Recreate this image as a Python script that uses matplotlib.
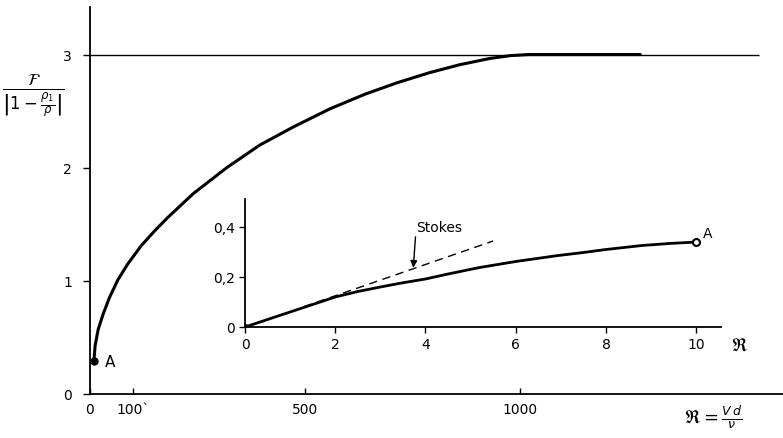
import matplotlib
matplotlib.use("Agg")
from matplotlib import pyplot as plt

# main curve: F / |1 - rho1/rho| against R = V d / nu
mainR = [9, 12, 19, 30, 45, 65, 88, 119, 150, 181, 240, 318, 395, 473, 558, 640, 714, 790, 860, 930, 977, 1020, 1280]
mainF = [0.29, 0.43, 0.57, 0.70, 0.85, 1.01, 1.15, 1.31, 1.44, 1.56, 1.77, 2.00, 2.20, 2.36, 2.52, 2.65, 2.75,
         2.84, 2.91, 2.965, 2.99, 3.0, 3.0]
limitF = 3.0
limitEnd = 1556

# inset: small R
insetR = [0, 1, 2, 2.5, 3, 3.5, 4, 4.5, 5.2, 6, 6.9, 7.5, 8, 8.8, 9.4, 10]
insetF = [0, 0.06, 0.12, 0.142, 0.16, 0.177, 0.192, 0.212, 0.238, 0.262, 0.285, 0.298, 0.31, 0.326, 0.334, 0.34]
stokesR = [1.3, 5.5]
stokesF = [0.081, 0.344]

mainTicksX = [0, 100, 500, 1000]
mainTickLabelsX = ['0', '100`', '500', '1000']
mainTicksY = [0, 1, 2, 3]
insetTicksX = [0, 2, 4, 6, 8, 10]
insetTicksY = [0, 0.2, 0.4]
insetTickLabelsY = ['0', '0,2', '0,4']

fig = plt.figure(figsize=(7.83, 4.39), dpi=100)

ax = fig.add_axes([90/783, 44/439, 693/783, 387/439])
ax.plot(mainR, mainF, color='black', lw=2.2, solid_capstyle='round', solid_joinstyle='round')
ax.plot(mainR[0], mainF[0], 'o', color='black', ms=5)
ax.hlines(limitF, 0, limitEnd, color='black', lw=1.0)
ax.text(mainR[0] + 25, mainF[0], 'A', fontsize=11, va='center')
ax.set_xlim(0, 1612)
ax.set_ylim(0, 3.42)
for s in ['top', 'right']:
    ax.spines[s].set_visible(False)
for s in ['left', 'bottom']:
    ax.spines[s].set_linewidth(1.3)
ax.set_xticks(mainTicksX)
ax.set_xticklabels(mainTickLabelsX)
ax.set_yticks(mainTicksY)
ax.tick_params(axis='x', direction='in', length=4, width=1, labelsize=10, pad=6)
ax.tick_params(axis='y', direction='out', length=5, width=1, labelsize=10, pad=8)
ax.text(-132, 2.64, r'$\frac{\mathcal{F}}{\left|1-\frac{\rho_1}{\rho}\right|}$',
        fontsize=17, ha='center', va='center')
ax.text(1449, -0.2, r'$\mathfrak{R} = \frac{V\,d}{\nu}$', fontsize=13, ha='center', va='center')

ins = fig.add_axes([245/783, 111/439, 476/783, 128/439])
ins.set_facecolor('none')
ins.plot(insetR, insetF, color='black', lw=2.0, solid_joinstyle='round')
ins.plot(stokesR, stokesF, color='black', lw=1.0, ls=(0, (6, 4)))
ins.plot(insetR[0], insetF[0], 'o', color='black', ms=4)
ins.plot(insetR[-1], insetF[-1], 'o', mfc='white', mec='black', mew=1.5, ms=5)
ins.text(10.25, 0.375, 'A', fontsize=10, ha='center', va='center')
ins.annotate('Stokes', xy=(3.73, 0.237), xytext=(3.79, 0.40), fontsize=10,
             ha='left', va='center',
             arrowprops=dict(arrowstyle='-|>', color='black', lw=1.0,
                             shrinkA=0, shrinkB=0, relpos=(0, 0.3)))
ins.set_xlim(0, 10.55)
ins.set_ylim(0, 0.512)
for s in ['top', 'right']:
    ins.spines[s].set_visible(False)
for s in ['left', 'bottom']:
    ins.spines[s].set_linewidth(1.3)
ins.set_xticks(insetTicksX)
ins.set_yticks(insetTicksY)
ins.set_yticklabels(insetTickLabelsY)
ins.tick_params(direction='out', length=4, width=1, labelsize=10)
ins.text(10.95, -0.07, r'$\mathfrak{R}$', fontsize=13, ha='center', va='center')

fig.savefig('out.png', dpi=100)
